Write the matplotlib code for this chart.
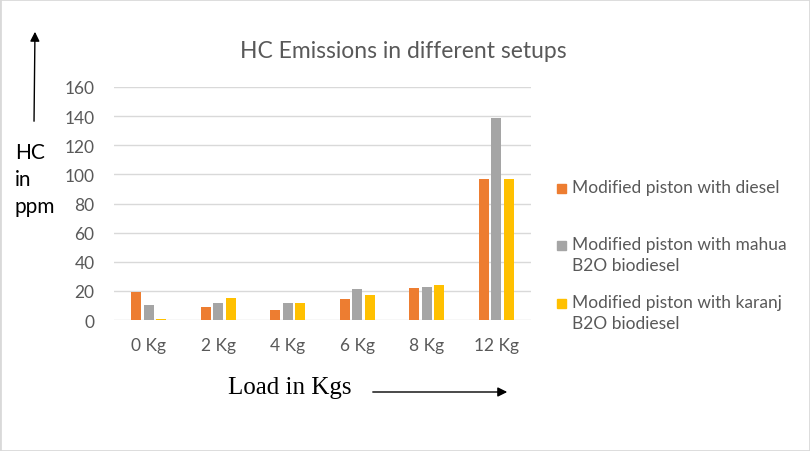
import matplotlib
matplotlib.use('Agg')
import matplotlib.pyplot as plt
from matplotlib.patches import Rectangle, FancyArrowPatch
import numpy as np

plt.rcParams['font.family'] = ['Lato', 'DejaVu Sans']

# data
loads = ['0 Kg', '2 Kg', '4 Kg', '6 Kg', '8 Kg', '12 Kg']
diesel = [19, 9, 7, 14.5, 22, 97]
mahua = [10, 12, 12, 21, 23, 139]
karanj = [1, 15, 12, 17, 24, 97]

series_names = ['Modified piston with diesel',
                'Modified piston with mahua\nB2O biodiesel',
                'Modified piston with karanj\nB2O biodiesel']
colors = ['#ED7D31', '#A5A5A5', '#FFC000']
yticks = [0, 20, 40, 60, 80, 100, 120, 140, 160]

fig = plt.figure(figsize=(8.1, 4.52), dpi=100)
W, H = 810, 452

# light grey frame around the picture
fig.patches.append(Rectangle((0, 0), 1, 1, transform=fig.transFigure,
                             fill=False, edgecolor='#D9D9D9', linewidth=2))

ax = fig.add_axes([114 / W, 1 - 321 / H, (531 - 114) / W, (321 - 88) / H])

x = np.arange(len(loads))
step = 0.18
width = 0.145
for i, (vals, name, c) in enumerate(zip([diesel, mahua, karanj], series_names, colors)):
    ax.bar(x + (i - 1) * step, vals, width, color=c, label=name, zorder=3)

ax.set_xlim(-0.5, len(loads) - 0.5)
ax.set_ylim(0, 160)
ax.set_yticks(yticks)
ax.set_xticks(x)
ax.set_xticklabels(loads)
ax.yaxis.grid(True, color='#D9D9D9', linewidth=1, zorder=0)
for s in ax.spines.values():
    s.set_visible(False)
ax.tick_params(axis='both', length=0, labelsize=12.5, colors='#595959')
ax.tick_params(axis='y', pad=14)
ax.tick_params(axis='x', pad=12)

fig.text(403 / W, 1 - 52 / H, 'HC Emissions in different setups', ha='center',
         va='center', fontsize=16.5, color='#595959')

# legend drawn manually to match the spacing
leg_y = [189, 246, 304]
for name, c, yy in zip(series_names, colors, leg_y):
    fig.patches.append(Rectangle((557 / W, 1 - (yy + 5) / H), 9 / W, 9 / H,
                                 transform=fig.transFigure, color=c))
    fig.text(572 / W, 1 - (yy - 9) / H, name, ha='left', va='top',
             fontsize=12.5, color='#595959', linespacing=1.35)

# y-axis annotation with arrow
fig.text(15 / W, 1 - 143 / H, 'HC\nin\nppm', ha='left', va='top',
         fontsize=15, color='black', linespacing=1.45)
fig.add_artist(FancyArrowPatch(
    (34 / W, 1 - 125 / H), (35 / W, 1 - 30 / H), transform=fig.transFigure,
    arrowstyle='-|>', mutation_scale=14, color='black', linewidth=1))

# x-axis annotation with arrow
fig.text(290 / W, 1 - 388 / H, 'Load in Kgs', ha='center', va='center',
         fontsize=18, family='Liberation Serif', color='black')
fig.add_artist(FancyArrowPatch(
    (370 / W, 1 - 393 / H), (510 / W, 1 - 393 / H), transform=fig.transFigure,
    arrowstyle='-|>', mutation_scale=14, color='black', linewidth=1))

fig.savefig('out.png', dpi=100)
